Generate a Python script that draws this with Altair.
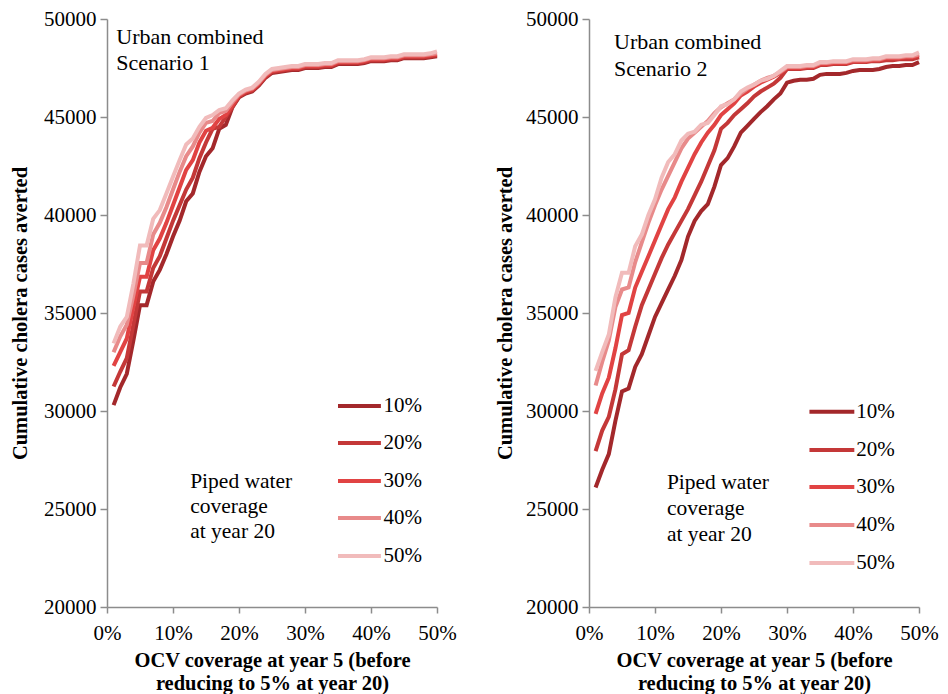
import altair as alt
import pandas as pd

FONT = "Liberation Serif"

x_pct = list(range(1, 51))
series = ["10%", "20%", "30%", "40%", "50%"]
colors = ["#A3282B", "#C43838", "#E14343", "#E88A8A", "#F1BBBB"]

# Scenario 1
s1_10 = [30300, 31200, 31900, 33600, 35400, 35400, 36600, 37200, 38000, 38900,
         39700, 40700, 41100, 42200, 43000, 43400, 44400, 44600, 45500, 46000,
         46200, 46300, 46600, 47000, 47250, 47300, 47350, 47400, 47400, 47500,
         47500, 47500, 47550, 47550, 47700, 47700, 47700, 47700, 47750, 47850,
         47850, 47850, 47900, 47900, 48000, 48000, 48000, 48000, 48050, 48100]
s1_20 = [31250, 32000, 32700, 34400, 36100, 36100, 37300, 37900, 38800, 39700,
         40500, 41300, 41900, 42900, 43700, 44400, 44500, 45000, 45500, 46050,
         46250, 46350, 46650, 47050, 47300, 47350, 47400, 47450, 47450, 47550,
         47550, 47550, 47600, 47600, 47750, 47750, 47750, 47750, 47800, 47900,
         47900, 47900, 47950, 47950, 48050, 48050, 48050, 48050, 48100, 48150]
s1_30 = [32300, 33000, 33700, 35300, 36850, 36850, 38200, 38800, 39600, 40500,
         41400, 42300, 42800, 43700, 44300, 44450, 44900, 45100, 45600, 46100,
         46300, 46400, 46700, 47100, 47350, 47400, 47450, 47500, 47500, 47600,
         47600, 47600, 47650, 47650, 47800, 47800, 47800, 47800, 47850, 47950,
         47950, 47950, 48000, 48000, 48100, 48100, 48100, 48100, 48150, 48200]
s1_40 = [33000, 33800, 34400, 35900, 37550, 37550, 39000, 39600, 40400, 41300,
         42200, 43000, 43500, 44200, 44700, 44800, 45200, 45300, 45750, 46150,
         46350, 46450, 46750, 47150, 47400, 47450, 47500, 47550, 47550, 47650,
         47650, 47650, 47700, 47700, 47850, 47850, 47850, 47850, 47900, 48000,
         48000, 48000, 48050, 48050, 48150, 48150, 48150, 48150, 48200, 48250]
s1_50 = [33450, 34300, 34800, 36500, 38450, 38450, 39800, 40250, 41100, 41950,
         42800, 43600, 43900, 44500, 44950, 45100, 45350, 45450, 45850, 46200,
         46400, 46500, 46800, 47200, 47450, 47500, 47550, 47600, 47600, 47700,
         47700, 47700, 47750, 47750, 47900, 47900, 47900, 47900, 47950, 48050,
         48050, 48050, 48100, 48100, 48200, 48200, 48200, 48200, 48250, 48350]

# Scenario 2
s2_10 = [26100, 27000, 27800, 29500, 31000, 31150, 32250, 32900, 33850, 34800,
         35500, 36200, 36900, 37700, 38900, 39700, 40200, 40550, 41450, 42550,
         42900, 43500, 44200, 44550, 44900, 45250, 45550, 45900, 46200, 46750,
         46850, 46900, 46900, 46950, 47150, 47200, 47200, 47200, 47250, 47350,
         47400, 47400, 47400, 47450, 47550, 47600, 47600, 47650, 47650, 47800]
s2_20 = [27950, 29000, 29700, 31100, 32900, 33100, 34300, 35400, 36200, 37000,
         37800, 38500, 39100, 39700, 40300, 41000, 41700, 42500, 43300, 44400,
         44700, 45100, 45400, 45700, 46050, 46300, 46500, 46700, 47000, 47450,
         47450, 47450, 47500, 47500, 47650, 47650, 47700, 47700, 47700, 47800,
         47800, 47800, 47850, 47850, 47900, 47900, 47950, 47950, 47950, 48050]
s2_30 = [29850, 30900, 31700, 33200, 34900, 35000, 36300, 37100, 37900, 38700,
         39500, 40300, 40900, 41700, 42400, 43100, 43700, 44200, 44600, 45100,
         45400, 45700, 46100, 46300, 46550, 46750, 46900, 47050, 47250, 47500,
         47500, 47500, 47550, 47550, 47700, 47700, 47750, 47750, 47750, 47850,
         47850, 47850, 47900, 47900, 48000, 48000, 48000, 48050, 48050, 48150]
s2_40 = [31300, 32500, 33600, 35300, 36200, 36300, 37600, 38600, 39600, 40500,
         41300, 42000, 42700, 43400, 43900, 44200, 44500, 44800, 45200, 45500,
         45700, 45900, 46200, 46450, 46650, 46850, 47000, 47100, 47300, 47550,
         47550, 47550, 47600, 47600, 47750, 47750, 47800, 47800, 47800, 47900,
         47900, 47900, 47950, 47950, 48050, 48050, 48050, 48100, 48100, 48200]
s2_50 = [32050, 33000, 33900, 35800, 37050, 37050, 38400, 39000, 40000, 40800,
         41900, 42700, 43100, 43800, 44150, 44250, 44600, 44700, 45100, 45550,
         45650, 45900, 46300, 46500, 46650, 46850, 46950, 47100, 47350, 47600,
         47600, 47600, 47650, 47650, 47800, 47800, 47850, 47850, 47850, 47950,
         47950, 47950, 48000, 48000, 48100, 48100, 48100, 48150, 48150, 48300]

x_ticks = [0, 10, 20, 30, 40, 50]
y_ticks = [20000, 25000, 30000, 35000, 40000, 45000, 50000]
y_title = "Cumulative cholera cases averted"
x_title = ["OCV coverage at year 5 (before", "reducing to 5% at year 20)"]
piped_text = ["Piped water", "coverage", "at year 20"]

# text/legend placements (data coordinates)
p1_ann = {"x": 1.4, "v": [49082, 47755], "t": ["Urban combined", "Scenario 1"]}
p2_ann = {"x": 3.8, "v": [48824, 47444], "t": ["Urban combined", "Scenario 2"]}
p1_piped = {"x": 12.6, "v": [26378, 25102, 23827]}
p2_piped = {"x": 11.8, "v": [26329, 25000, 23671]}
p1_leg = {"x1": 35.0, "x2": 41.5, "lx": 41.9, "v": [30255, 28367, 26429, 24541, 22602]}
p2_leg = {"x1": 33.4, "x2": 40.2, "lx": 40.5, "v": [29959, 28016, 26125, 24182, 22239]}


def long_df(arrs):
    rows = []
    for s, arr in zip(series, arrs):
        for x, v in zip(x_pct, arr):
            rows.append({"x": x, "v": v, "series": s})
    return pd.DataFrame(rows)


color = alt.Color("series:N", scale=alt.Scale(domain=series, range=colors), legend=None)
AXC = "#8C8C8C"

xs = alt.Scale(domain=[0, 50], nice=False, zero=False)
ys = alt.Scale(domain=[20000, 50000], nice=False, zero=False)


def encodings(ytitle_pad):
    xaxis = alt.Axis(
        values=x_ticks, labelExpr="datum.value + '%'", title=x_title, grid=False,
        labelFlush=False, labelOverlap=False,
        domainColor=AXC, tickColor=AXC, domainWidth=1.5, tickWidth=1.5, tickSize=6,
        labelFont=FONT, labelFontSize=21, labelColor="black", labelPadding=9,
        titleFont=FONT, titleFontSize=20.5, titleFontWeight="bold", titleColor="black",
        titleLineHeight=23, titlePadding=7)
    yaxis = alt.Axis(
        values=y_ticks, format="d", title=y_title, grid=False,
        labelFlush=False, labelOverlap=False,
        domainColor=AXC, tickColor=AXC, domainWidth=1.5, tickWidth=1.5, tickSize=7,
        labelFont=FONT, labelFontSize=21, labelColor="black", labelPadding=4,
        titleFont=FONT, titleFontSize=20.5, titleFontWeight="bold", titleColor="black",
        titlePadding=ytitle_pad)
    return (alt.X("x:Q", scale=xs, axis=xaxis, title=x_title),
            alt.Y("v:Q", scale=ys, axis=yaxis, title=y_title))


def panel(df, ann, piped, leg, width, height, ytitle_pad):
    xenc, yenc = encodings(ytitle_pad)
    lines = alt.Chart(df).mark_line(strokeWidth=4).encode(x=xenc, y=yenc, color=color)

    ann_df = pd.DataFrame({"x": [ann["x"]] * len(ann["t"]), "v": ann["v"], "t": ann["t"]})
    piped_df = pd.DataFrame({"x": [piped["x"]] * 3, "v": piped["v"], "t": piped_text})
    rule_df = pd.DataFrame({"x": [leg["x1"]] * 5, "x2": [leg["x2"]] * 5,
                            "v": leg["v"], "series": series})
    lab_df = pd.DataFrame({"x": [leg["lx"]] * 5, "v": leg["v"], "series": series})

    ann_t = alt.Chart(ann_df).mark_text(align="left", baseline="middle", font=FONT,
                                        fontSize=22, color="black").encode(x=xenc, y=yenc, text="t:N")
    piped_t = alt.Chart(piped_df).mark_text(align="left", baseline="middle", font=FONT,
                                            fontSize=21.5, color="black").encode(x=xenc, y=yenc, text="t:N")
    leg_r = alt.Chart(rule_df).mark_rule(strokeWidth=4).encode(x=xenc, x2="x2:Q", y=yenc, color=color)
    leg_t = alt.Chart(lab_df).mark_text(align="left", baseline="middle", font=FONT,
                                        fontSize=21, color="black").encode(x=xenc, y=yenc, text="series:N")
    return alt.layer(lines, leg_r, leg_t, ann_t, piped_t).properties(width=width, height=height)


p1 = panel(long_df([s1_10, s1_20, s1_30, s1_40, s1_50]), p1_ann, p1_piped, p1_leg, 330, 588, 13)
p2 = panel(long_df([s2_10, s2_20, s2_30, s2_40, s2_50]), p2_ann, p2_piped, p2_leg, 330, 588, 10)

chart = alt.hconcat(p1, p2, spacing=38).properties(
    padding={"left": 2, "top": 0, "right": 0, "bottom": 0},
    background="white",
).configure_view(stroke=None)

chart.save("out.html", embed_options={"renderer": "svg", "actions": False})
